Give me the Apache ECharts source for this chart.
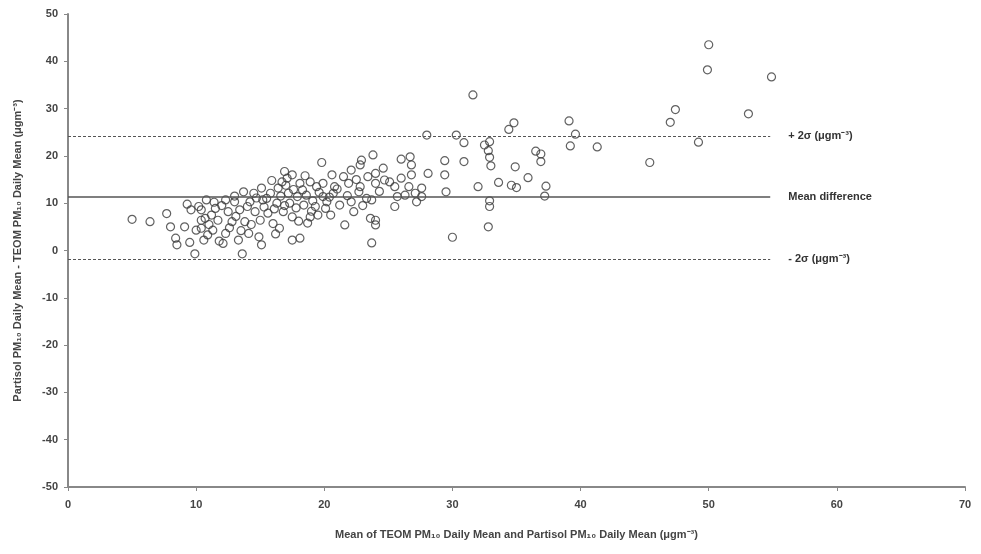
<!DOCTYPE html>
<html>
<head>
<meta charset="utf-8">
<script src="https://cdn.jsdelivr.net/npm/echarts@6/dist/echarts.min.js"></script>
<style>
  html, body { margin: 0; padding: 0; background: #fff; }
  #chart { width: 981px; height: 554px; }
</style>
</head>
<body>
<div id="chart"></div>
<script>
// mean of the two instruments (x) and their difference (y)
const meanVals = [
  5.0, 6.4, 7.7, 8.0, 8.4, 8.5, 9.3, 9.1, 9.5, 9.9, 10.0, 10.4, 9.6, 10.2,
  10.8, 10.4, 10.7, 10.4, 10.6, 11.3, 11.5, 11.7, 12.3, 12.3, 12.5, 12.8, 13.0, 13.3, 13.4, 13.7,
  13.8, 13.6, 14.2, 14.5, 14.6, 14.9, 15.1, 15.0, 15.1, 15.2, 11.0, 11.8, 12.0, 12.6, 13.1, 13.5,
  14.0, 14.3, 14.7, 11.2, 12.1, 13.0, 14.1, 10.9, 11.4,
  15.6, 15.8, 16.0, 16.3, 16.4, 16.5, 16.7, 16.8, 16.9, 17.2, 17.3, 17.5, 17.5, 17.5, 17.9, 18.1,
  18.1, 18.4, 18.6, 18.9, 18.9, 19.3, 19.4, 19.5, 19.8, 19.9, 19.9, 15.5, 16.1, 16.6, 17.0, 17.8,
  18.3, 18.7, 19.1, 19.6, 15.9, 17.1, 18.0, 16.2, 15.3, 17.6, 19.0, 18.5, 16.9,
  20.1, 20.2, 20.5, 20.6, 20.7, 20.8, 21.2, 21.5, 21.6, 21.9, 22.1, 22.1, 22.3, 22.7, 22.8, 22.8,
  22.9, 23.3, 23.4, 23.6, 23.7, 23.7, 23.8, 24.0, 24.0, 24.0, 24.0, 24.6, 24.7, 25.1, 25.5, 25.5,
  25.7, 20.4, 21.0, 21.8, 22.5, 23.0, 24.3,
  26.0, 26.0, 26.3, 26.6, 26.7, 26.8, 26.8, 27.1, 27.2, 27.6, 27.6, 28.0, 28.1, 29.4, 29.4, 29.5,
  30.0,
  30.3, 30.9, 30.9, 31.6, 32.0, 32.5, 32.9, 32.8, 32.9, 33.0, 32.9, 32.9, 32.8, 33.6, 34.4, 34.8,
  34.6, 34.9, 35.0, 35.9, 36.5, 36.9, 36.9, 37.3, 37.2, 39.1, 39.6, 39.2, 41.3,
  45.4, 47.0, 47.4, 49.2, 49.9, 50.0, 53.1, 54.9
];
const diffVals = [
  6.6, 6.1, 7.8, 5.0, 2.6, 1.2, 9.8, 5.0, 1.7, -0.7, 4.3, 6.4, 8.6, 9.3,
  10.7, 8.6, 6.8, 4.7, 2.2, 4.3, 8.9, 6.4, 10.7, 3.6, 8.2, 6.1, 10.3, 2.2, 8.6, 12.4,
  6.1, -0.7, 10.3, 12.1, 8.2, 2.9, 1.2, 6.4, 13.2, 10.7, 5.5, 2.0, 9.5, 4.8, 7.2, 4.2,
  9.3, 5.5, 11.1, 7.5, 1.5, 11.5, 3.6, 3.3, 10.2,
  7.9, 12.1, 5.7, 10.0, 13.2, 4.7, 14.5, 8.2, 16.7, 12.1, 10.0, 16.0, 7.1, 2.2, 11.4, 14.2,
  2.6, 9.6, 11.7, 14.5, 7.1, 9.3, 13.5, 7.5, 18.6, 11.4, 14.2, 11.0, 8.8, 11.5, 13.8, 9.0,
  12.8, 5.8, 10.5, 12.3, 14.8, 15.3, 6.2, 3.5, 9.2, 12.9, 8.3, 15.8, 9.5,
  8.9, 10.3, 7.5, 16.0, 12.1, 13.5, 9.6, 15.6, 5.4, 14.2, 17.0, 10.3, 8.2, 12.4, 13.5, 18.1,
  19.1, 11.0, 15.6, 6.8, 10.7, 1.6, 20.2, 16.3, 14.2, 6.4, 5.4, 17.4, 14.9, 14.5, 13.5, 9.3,
  11.4, 11.3, 13.0, 11.6, 15.0, 9.5, 12.5,
  15.3, 19.3, 11.7, 13.5, 19.8, 18.1, 16.0, 12.1, 10.3, 13.2, 11.4, 24.4, 16.3, 19.0, 16.0, 12.4,
  2.8,
  24.4, 22.8, 18.8, 32.9, 13.5, 22.3, 23.0, 21.1, 19.7, 17.9, 10.5, 9.3, 5.0, 14.4, 25.6, 27.0,
  13.8, 17.7, 13.3, 15.4, 21.0, 20.4, 18.8, 13.6, 11.5, 27.4, 24.6, 22.1, 21.9,
  18.6, 27.1, 29.8, 22.9, 38.2, 43.5, 28.9, 36.7
];

// limits of agreement and mean difference
const refValues = [24.2, 11.3, -1.8];
const refLabels = ['+ 2σ (μgm⁻³)', 'Mean difference', '- 2σ (μgm⁻³)'];
const refDashed = [true, false, true];
const refEndX = 54.8;

const xTicks = [0, 70, 10];
const yTicks = [-50, 50, 10];

const points = meanVals.map((m, i) => [m, diffVals[i]]);

const chart = echarts.init(document.getElementById('chart'));
const font = 'Liberation Sans, Arial, sans-serif';

chart.setOption({
  animation: false,
  backgroundColor: '#fff',
  grid: { left: 68, right: 16, top: 14, bottom: 67 },
  xAxis: {
    type: 'value',
    min: xTicks[0], max: xTicks[1], interval: xTicks[2],
    name: 'Mean of TEOM PM₁₀ Daily Mean and Partisol PM₁₀ Daily Mean (μgm⁻³)',
    nameLocation: 'middle',
    nameGap: 42,
    nameTextStyle: { fontFamily: font, fontSize: 11, fontWeight: 'bold', color: '#444' },
    axisLine: { onZero: false, lineStyle: { color: '#888', width: 2 } },
    axisTick: { show: true, length: 4, lineStyle: { color: '#888' } },
    axisLabel: { fontFamily: font, fontSize: 11, fontWeight: 'bold', color: '#444', margin: 12 },
    splitLine: { show: false }
  },
  yAxis: {
    type: 'value',
    min: yTicks[0], max: yTicks[1], interval: yTicks[2],
    name: 'Partisol PM₁₀ Daily Mean - TEOM PM₁₀ Daily Mean (μgm⁻³)',
    nameLocation: 'middle',
    nameGap: 45,
    nameTextStyle: { fontFamily: font, fontSize: 11, fontWeight: 'bold', color: '#444' },
    axisLine: { show: true, onZero: false, lineStyle: { color: '#888', width: 2 } },
    axisTick: { show: true, length: 4, lineStyle: { color: '#888' } },
    axisLabel: { fontFamily: font, fontSize: 11, fontWeight: 'bold', color: '#444', margin: 10 },
    splitLine: { show: false }
  },
  series: [
    {
      type: 'scatter',
      data: points,
      symbol: 'circle',
      symbolSize: 8,
      itemStyle: { color: 'transparent', borderColor: '#3a3a3a', borderWidth: 1.2 },
      markLine: {
        silent: true,
        symbol: ['none', 'none'],
        data: refValues.map((v, i) => [
          {
            coord: [xTicks[0], v],
            lineStyle: { type: refDashed[i] ? [3, 2] : 'solid', color: '#555', width: refDashed[i] ? 1 : 1.5 },
            label: {
              show: true,
              position: 'end',
              distance: 18,
              formatter: refLabels[i],
              fontFamily: font,
              fontSize: 11,
              fontWeight: 'bold',
              color: '#333'
            }
          },
          { coord: [refEndX, v] }
        ])
      }
    }
  ]
});
</script>
</body>
</html>
